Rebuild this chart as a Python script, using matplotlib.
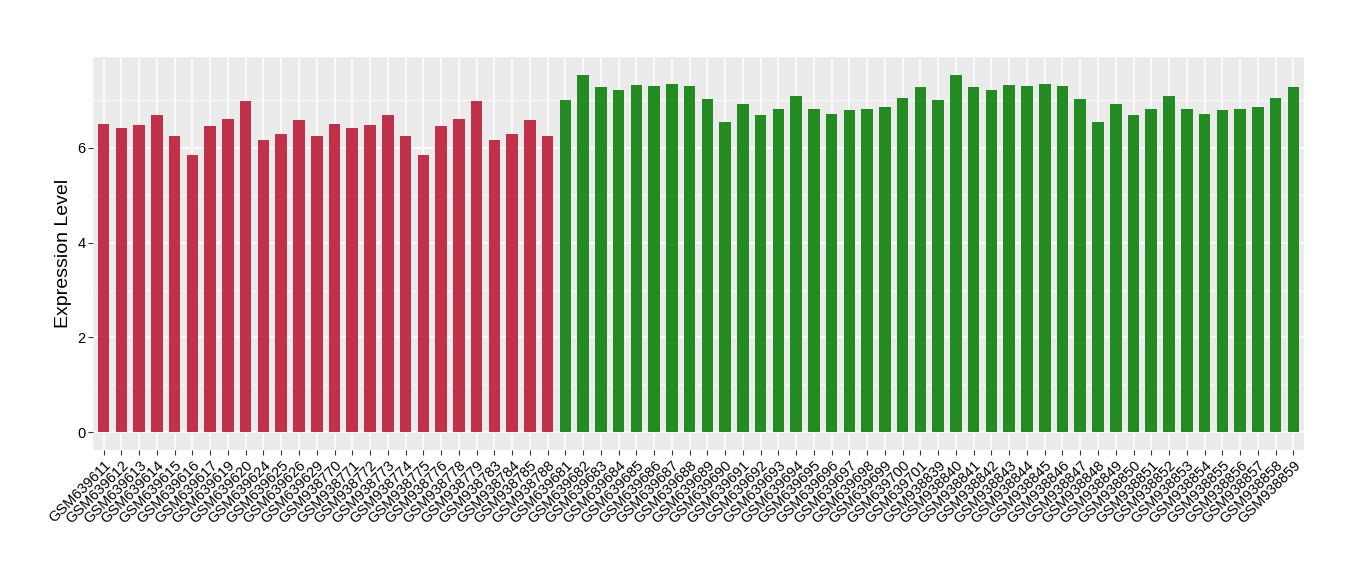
import matplotlib
matplotlib.use('Agg')
import matplotlib.pyplot as plt
import numpy as np

plt.rcParams['font.family'] = ['Liberation Sans', 'DejaVu Sans']

samples_a = ['GSM639611', 'GSM639612', 'GSM639613', 'GSM639614', 'GSM639615', 'GSM639616',
             'GSM639617', 'GSM639619', 'GSM639620', 'GSM639624', 'GSM639625', 'GSM639626',
             'GSM639629', 'GSM938770', 'GSM938771', 'GSM938772', 'GSM938773', 'GSM938774',
             'GSM938775', 'GSM938776', 'GSM938778', 'GSM938779', 'GSM938783', 'GSM938784',
             'GSM938785', 'GSM938788']
values_a = [6.51, 6.42, 6.48, 6.69, 6.25, 5.85, 6.46, 6.61, 6.99, 6.17, 6.29, 6.59, 6.25,
            6.51, 6.42, 6.48, 6.69, 6.25, 5.85, 6.46, 6.61, 6.99, 6.17, 6.29, 6.59, 6.25]

samples_b = ['GSM639681', 'GSM639682', 'GSM639683', 'GSM639684', 'GSM639685', 'GSM639686',
             'GSM639687', 'GSM639688', 'GSM639689', 'GSM639690', 'GSM639691', 'GSM639692',
             'GSM639693', 'GSM639694', 'GSM639695', 'GSM639696', 'GSM639697', 'GSM639698',
             'GSM639699', 'GSM639700', 'GSM639701', 'GSM938839', 'GSM938840', 'GSM938841',
             'GSM938842', 'GSM938843', 'GSM938844', 'GSM938845', 'GSM938846', 'GSM938847',
             'GSM938848', 'GSM938849', 'GSM938850', 'GSM938851', 'GSM938852', 'GSM938853',
             'GSM938854', 'GSM938855', 'GSM938856', 'GSM938857', 'GSM938858', 'GSM938859']
values_b = [7.01, 7.54, 7.28, 7.22, 7.33, 7.31, 7.35, 7.31, 7.03, 6.55, 6.93, 6.69, 6.82,
            7.09, 6.82, 6.72, 6.80, 6.82, 6.86, 7.05, 7.28,
            7.01, 7.54, 7.28, 7.22, 7.33, 7.31, 7.35, 7.31, 7.03, 6.55, 6.93, 6.69, 6.82,
            7.09, 6.82, 6.72, 6.80, 6.82, 6.86, 7.05, 7.28]

labels = samples_a + samples_b
values = values_a + values_b
colors = ['#C1324A'] * len(samples_a) + ['#228B22'] * len(samples_b)

fig = plt.figure(figsize=(13.6, 5.8), dpi=100)
ax = fig.add_axes([0.0684, 0.2241, 0.8904, 0.6776])
ax.set_facecolor('#EBEBEB')

x = np.arange(len(labels))
ax.bar(x, values, width=0.65, color=colors, zorder=3)

ymax = max(values)
ax.set_ylim(-0.05 * ymax, ymax * 1.05)
ax.set_xlim(-0.6, len(labels) - 0.4)
ax.set_yticks([0, 2, 4, 6])
ax.set_yticks([1, 3, 5, 7], minor=True)
ax.set_xticks(x)
ax.set_xticklabels(labels, rotation=45, ha='right', rotation_mode='anchor', fontsize=10.5)
ax.tick_params(axis='y', labelsize=10.5, length=3.5, color='#333333', labelcolor='black', pad=2)
ax.tick_params(axis='x', length=3.5, color='#333333', labelcolor='black', pad=2)
ax.tick_params(axis='y', which='minor', length=0)

ax.grid(which='major', color='white', linewidth=1.1, zorder=0)
ax.grid(which='minor', axis='y', color='white', linewidth=0.5, zorder=0)
ax.set_axisbelow(True)
for s in ax.spines.values():
    s.set_visible(False)

ax.set_ylabel('Expression Level', fontsize=14, labelpad=4)

fig.savefig('out.png', dpi=100)
